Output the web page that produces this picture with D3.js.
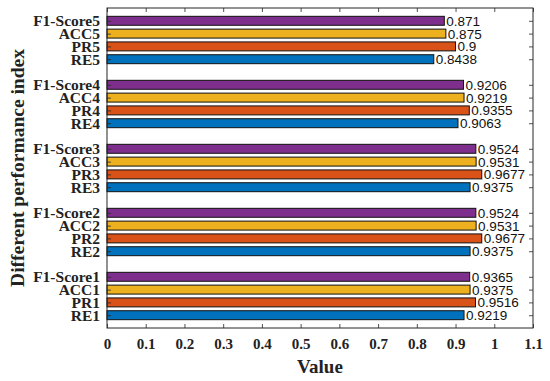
<!DOCTYPE html>
<html>
<head>
<meta charset="utf-8">
<script src="https://cdn.jsdelivr.net/npm/d3@7"></script>
<style>
  body { margin: 0; background: #fff; }
</style>
</head>
<body>
<div id="chart"></div>
<script>
// bar rows from bottom to top, "" = empty slot between groups
var labels = ["RE1", "PR1", "ACC1", "F1-Score1", "",
              "RE2", "PR2", "ACC2", "F1-Score2", "",
              "RE3", "PR3", "ACC3", "F1-Score3", "",
              "RE4", "PR4", "ACC4", "F1-Score4", "",
              "RE5", "PR5", "ACC5", "F1-Score5"];
var values = [0.9219, 0.9516, 0.9375, 0.9365, null,
              0.9375, 0.9677, 0.9531, 0.9524, null,
              0.9375, 0.9677, 0.9531, 0.9524, null,
              0.9063, 0.9355, 0.9219, 0.9206, null,
              0.8438, 0.9, 0.875, 0.871];
var valueText = ["0.9219", "0.9516", "0.9375", "0.9365", "",
                 "0.9375", "0.9677", "0.9531", "0.9524", "",
                 "0.9375", "0.9677", "0.9531", "0.9524", "",
                 "0.9063", "0.9355", "0.9219", "0.9206", "",
                 "0.8438", "0.9", "0.875", "0.871"];
var metrics = ["RE", "PR", "ACC", "F1-Score"];
var metricColors = ["#0072BD", "#D95319", "#EDB120", "#7E2F8E"];
var xTicks = [0, 0.1, 0.2, 0.3, 0.4, 0.5, 0.6, 0.7, 0.8, 0.9, 1, 1.1];

const w = 550, h = 381;
const pLeft = 107, pRight = 533, pTop = 8, pBottom = 328;

var rows = labels.map((l, i) => ({ key: "r" + i, label: l, value: values[i], text: valueText[i] }));
var bars = rows.filter(d => d.label !== "");

const svg = d3.select("#chart").append("svg")
    .attr("width", w)
    .attr("height", h);

const xScale = d3.scaleLinear().domain([0, 1.1]).range([pLeft, pRight]);
// reverse order so first row ends at the bottom
const yScale = d3.scalePoint()
    .domain(rows.map(d => d.key).reverse())
    .range([pTop, pBottom])
    .padding(1);

const color = d3.scaleOrdinal().domain(metrics).range(metricColors);
const barH = yScale.step() * 0.7;

svg.selectAll("rect.bar")
    .data(bars)
    .enter()
    .append("rect")
    .attr("class", "bar")
    .attr("x", xScale(0))
    .attr("y", d => yScale(d.key) - barH / 2)
    .attr("width", d => xScale(d.value) - xScale(0))
    .attr("height", barH)
    .attr("fill", d => color(d.label.replace(/\d$/, "")))
    .attr("stroke", "#111")
    .attr("stroke-width", 1);

svg.selectAll("text.val")
    .data(bars)
    .enter()
    .append("text")
    .attr("class", "val")
    .attr("x", d => xScale(d.value) + 2)
    .attr("y", d => yScale(d.key) + 0.5)
    .attr("dominant-baseline", "central")
    .style("font-family", "'Liberation Sans', Arial, sans-serif")
    .style("font-size", "13.5px")
    .attr("fill", "#111")
    .text(d => d.text);

// axes
const tickKeys = bars.map(d => d.key);
const yLabel = {};
bars.forEach(d => yLabel[d.key] = d.label);

const xAxis = d3.axisBottom(xScale).tickValues(xTicks).tickSize(-4).tickPadding(10)
    .tickFormat(d3.format("~g"));
const xAxisTop = d3.axisTop(xScale).tickValues(xTicks).tickSize(-4).tickFormat("");
const yAxis = d3.axisLeft(yScale).tickValues(tickKeys).tickSize(-4).tickPadding(7)
    .tickFormat(k => yLabel[k]);
const yAxisRight = d3.axisRight(yScale).tickValues(tickKeys).tickSize(-4).tickFormat("");

function styleAxis(g) {
    g.select(".domain").remove();
    g.selectAll(".tick line").attr("stroke", "#262626").attr("stroke-width", 0.8);
    g.selectAll("text")
        .style("font-family", "'Liberation Serif', 'Times New Roman', serif")
        .style("font-weight", "bold")
        .attr("fill", "#222");
}

svg.append("g").attr("transform", "translate(0," + pBottom + ")").call(xAxis).call(styleAxis)
    .selectAll("text").style("font-size", "15px");
svg.append("g").attr("transform", "translate(0," + pTop + ")").call(xAxisTop).call(styleAxis);
svg.append("g").attr("transform", "translate(" + pLeft + ",0)").call(yAxis).call(styleAxis)
    .selectAll("text").style("font-size", "15.5px");
svg.append("g").attr("transform", "translate(" + pRight + ",0)").call(yAxisRight).call(styleAxis);

// box
svg.append("rect")
    .attr("x", pLeft)
    .attr("y", pTop)
    .attr("width", pRight - pLeft)
    .attr("height", pBottom - pTop)
    .attr("fill", "none")
    .attr("stroke", "#262626")
    .attr("stroke-width", 1);

svg.append("text")
    .attr("x", (pLeft + pRight) / 2)
    .attr("y", 373)
    .attr("text-anchor", "middle")
    .style("font-family", "'Liberation Serif', 'Times New Roman', serif")
    .style("font-weight", "bold")
    .style("font-size", "19px")
    .attr("fill", "#222")
    .text("Value");

svg.append("text")
    .attr("transform", "translate(24," + (pTop + pBottom) / 2 + ") rotate(-90)")
    .attr("text-anchor", "middle")
    .style("font-family", "'Liberation Serif', 'Times New Roman', serif")
    .style("font-weight", "bold")
    .style("font-size", "19.5px")
    .attr("fill", "#222")
    .text("Different performance index");
</script>
</body>
</html>
